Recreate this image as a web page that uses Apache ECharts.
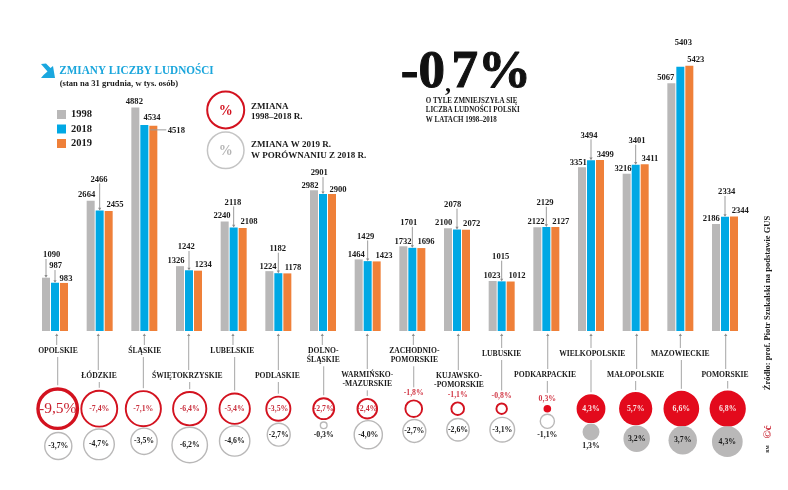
<!DOCTYPE html>
<html>
<head>
<meta charset="utf-8">
<title>Zmiany liczby ludności</title>
<style>
  html, body { margin: 0; padding: 0; background: #fff; }
  #main { width: 788px; height: 490px; }
</style>
<script src="https://cdn.jsdelivr.net/npm/echarts@6/dist/echarts.min.js"></script>
</head>
<body>
<div id="main"></div>
<script>
// dane
var provinces = ['OPOLSKIE', 'ŁÓDZKIE', 'ŚLĄSKIE', 'ŚWIĘTOKRZYSKIE', 'LUBELSKIE', 'PODLASKIE', 'DOLNO-\nŚLĄSKIE',
  'WARMIŃSKO-\n-MAZURSKIE', 'ZACHODNIO-\nPOMORSKIE', 'KUJAWSKO-\n-POMORSKIE', 'LUBUSKIE', 'PODKARPACKIE',
  'WIELKOPOLSKIE', 'MAŁOPOLSKIE', 'MAZOWIECKIE', 'POMORSKIE'];
var values1998 = [1090, 2664, 4882, 1326, 2240, 1224, 2982, 1464, 1732, 2100, 1023, 2122, 3351, 3216, 5067, 2186];
var values2018 = [987, 2466, 4534, 1242, 2118, 1182, 2901, 1429, 1701, 2078, 1015, 2129, 3494, 3401, 5403, 2334];
var values2019 = [983, 2455, 4518, 1234, 2108, 1178, 2900, 1423, 1696, 2072, 1012, 2127, 3499, 3411, 5423, 2344];
var change1998to2018 = [-9.5, -7.4, -7.1, -6.4, -5.4, -3.5, -2.7, -2.4, -1.8, -1.1, -0.8, 0.3, 4.3, 5.7, 6.6, 6.8];
var change2019 = [-3.7, -4.7, -3.5, -6.2, -4.6, -2.7, -0.3, -4.0, -2.7, -2.6, -3.1, -1.1, 1.3, 3.2, 3.7, 4.3];
// w oryginale te slupki sa krotsze niz wynikaloby z ich podpisow: [1998, 2018, 2019]
var drawnShorter = { 2: [4570, 4215, 4195], 6: [2877, 2800, 2800] };

// przesuniecia podpisow wzgledem wierzcholka slupka [dx, dy]
var offset1998 = [[-3.3, -22.7], [-13, -5.7], [-10, -5.8], [-13, -5], [-11.7, -5.5], [-10.3, -4], [-13, -4.6], [-11.4, -4.7],
  [-9.3, -4.3], [-13.3, -5.3], [-9.7, -5], [-10.3, -5.5], [-12.7, -4.8], [-12.7, -5], [-14.6, -5.5], [-13.7, -5.8]];
var offset2018 = [[0.7, -16.7], [-0.7, -31], [7.7, -7.3], [-2.7, -23.3], [-0.7, -25], [-0.6, -24.5], [-3.7, -21], [-2, -24.7],
  [-3.6, -25], [-4.3, -24.7], [-1, -24.7], [-1.3, -24.2], [-2, -24.8], [1.3, -24], [3, -24], [1.7, -24.9]];
var offset2019 = [[11, -4.6], [15.3, -6], [32, 5], [14.3, -6], [15.3, -6], [14.7, -5.4], [15, -4], [16.3, -5.4],
  [13.7, -6], [14.7, -5.7], [15.3, -5.5], [14.4, -5], [14.3, -5.6], [14.3, -5.2], [15.4, -5.8], [15.3, -6]];
var noLeader2018 = [2, 14];

// uklad dolnej czesci
var nameY = [351, 376, 351, 376, 351, 376, 351, 375, 351, 376, 354, 375, 354, 375, 354, 375];
var nameDx = [3, -0.7, 0.4, -1.7, -1.4, -1, 0.3, -0.4, 2, 2, 0, -1.3, 1.3, 0, 0, 0];
var lineDx = [1.7, -1.4, 0, -0.3, -0.7, 0, -0.7, -0.4, 1, 1.3, 0, 1.4, 0, 1, 0, 0.7];
var redDx = [2.7, -0.4, -1, 0.7, 1, 0, 0.7, -0.4, 1.4, 0.7, 0, 1, 0, 0, 1, 2.7];
var greyDx = [3.3, -0.7, -0.3, 0.7, 1, 0.4, 0.7, 0.6, 2, 1, 0.6, 1, 0, 1, 2.4, 2.3];
var greyY = [446, 444.3, 441.3, 445, 441, 434.7, 425.3, 434.7, 431, 429.7, 429.7, 421.3, 432, 438.7, 440.3, 441.7];
var redY = 408.7;

var FONT = '"Liberation Serif", serif';
var GREY = '#b9b8b8', BLUE = '#00a8e4', ORANGE = '#ef8039', RED = '#d3121f', INK = '#1a1a1a';

function barValues(values, yearIndex) {
  return values.map(function (v, i) {
    return drawnShorter[i] ? drawnShorter[i][yearIndex] : v;
  });
}
function pct(v) {
  return v.toFixed(1).replace('.', ',') + '%';
}
function txt(x, y, text, size, color) {
  return {
    type: 'text', silent: true,
    style: {
      x: x, y: y, text: text, fill: color || INK,
      font: 'bold ' + size + 'px ' + FONT,
      textAlign: 'center', textVerticalAlign: 'middle'
    }
  };
}
function seg(x1, y1, x2, y2, color) {
  return { type: 'line', shape: { x1: x1, y1: y1, x2: x2, y2: y2 }, style: { stroke: color || '#9c9c9c', lineWidth: 1 }, silent: true };
}
function tip(x, y, dir, color) {
  // maly grot strzalki, dir 1 - w dol, -1 - w gore
  return { type: 'polygon', shape: { points: [[x - 1.6, y - dir * 2.6], [x + 1.6, y - dir * 2.6], [x, y]] }, style: { fill: color || '#8c8c8c' }, silent: true };
}
// tekst na stronie, scaleX zweza krój, bo oryginalny jest wezszy od dostepnych
function note(x, y, text, font, color, scaleX) {
  return {
    type: 'text', x: x, y: y, scaleX: scaleX || 1,
    style: { x: 0, y: 0, text: text, fill: color || INK, font: font, textVerticalAlign: 'middle' }
  };
}
function sideNote(y, text, font, color) {
  return {
    type: 'text', x: 768, y: y, rotation: Math.PI / 2,
    style: { x: 0, y: 0, text: text, fill: color || INK, font: font, textAlign: 'center', textVerticalAlign: 'middle' }
  };
}

var chart = echarts.init(document.getElementById('main'), null, { renderer: 'canvas' });

var years = [
  { name: '1998', printed: values1998, bars: barValues(values1998, 0), off: offset1998 },
  { name: '2018', printed: values2018, bars: barValues(values2018, 1), off: offset2018 },
  { name: '2019', printed: values2019, bars: barValues(values2019, 2), off: offset2019 }
];

// podpisy wartosci i linie prowadzace
function renderValueLabels(params, api) {
  var i = api.value(0);
  var kids = [];
  years.forEach(function (yr, y) {
    var top = api.coord([i, yr.bars[i]]);
    var lx = top[0] + yr.off[i][0], ly = top[1] + yr.off[i][1];
    kids.push(txt(lx, ly, String(yr.printed[i]), 8.6));
    if (y === 1 && noLeader2018.indexOf(i) < 0) {
      kids.push(seg(top[0], ly + 4, top[0], top[1] - 1));
      kids.push(tip(top[0], top[1], 1));
    }
    if (y === 0 && i === 0) {
      kids.push(seg(top[0] - 9, ly + 4, top[0] - 9, top[1] - 1));
      kids.push(tip(top[0] - 9, top[1], 1));
    }
    if (y === 2 && i === 2) {
      kids.push(seg(top[0] + 6, ly - 1, lx - 10, ly - 1));
    }
  });
  return { type: 'group', children: kids };
}

// nazwy wojewodztw, laczniki, kola zmian procentowych
function renderChange(params, api) {
  var i = api.value(0);
  var c = api.coord([i, 0]);
  var x = c[0], kids = [];
  var red = change1998to2018[i], grey = change2019[i];
  var rr = 6.95 * Math.sqrt(Math.abs(red)), gr = 7.4 * Math.sqrt(Math.abs(grey));
  var lines = provinces[i].split('\n');
  var lastY = nameY[i] + (lines.length - 1) * 9.3;

  kids.push(seg(x + lineDx[i], 335, x + lineDx[i], nameY[i] - 6, '#a5a5a5'));
  kids.push(tip(x + lineDx[i], 333.5, -1, '#8c8c8c'));
  var rx = x + redDx[i];
  var redOutside = Math.abs(red) < 2;
  var lineEnd = redOutside ? redY - rr - 12 : redY - rr - 2;
  if (lineEnd - lastY > 9) kids.push(seg(rx, lastY + 6, rx, lineEnd, '#a5a5a5'));

  lines.forEach(function (s, n) {
    kids.push(txt(x + nameDx[i], nameY[i] + n * 9.3, s, 7.6));
  });

  // czerwone kolo: 1998-2018
  var filled = red > 0;
  var lw = i === 0 ? 3.4 : 1.9;
  kids.push({
    type: 'circle',
    shape: { cx: rx, cy: redY, r: filled ? rr : rr - lw / 2 },
    style: filled ? { fill: '#e30a1c' } : { fill: '#fff', stroke: RED, lineWidth: lw },
    silent: true
  });
  if (redOutside) {
    kids.push(txt(rx, redY - rr - 6.3, pct(red), 7.8, '#d23a48'));
  } else if (i === 0) {
    kids.push({ type: 'text', silent: true, style: { x: rx, y: redY, text: pct(red), fill: '#c9202f', font: '15.5px ' + FONT, textAlign: 'center', textVerticalAlign: 'middle' } });
  } else {
    kids.push(txt(rx, redY, pct(red), 7.8, filled ? '#fbe3e3' : '#c9313f'));
  }

  // szare kolo: 2019 wobec 2018
  var gx = x + greyDx[i], gy = greyY[i];
  var gFilled = grey > 0;
  kids.push({
    type: 'circle',
    shape: { cx: gx, cy: gy, r: gFilled ? gr : gr - 0.7 },
    style: gFilled ? { fill: GREY } : { fill: '#fff', stroke: GREY, lineWidth: 1.4 },
    silent: true
  });
  kids.push(txt(gx, Math.abs(grey) < 2 ? gy + gr + 6 : gy, pct(grey), 7.8));
  return { type: 'group', children: kids };
}

function barSeries(yr, color) {
  return {
    name: yr.name, type: 'bar', data: yr.bars,
    barWidth: 8, barGap: '12.5%', itemStyle: { color: color }, silent: true
  };
}

var indexData = provinces.map(function (p, i) { return [i]; });
var bigFont = 'bold 53px ' + FONT;

var option = {
  animation: false,
  backgroundColor: '#fff',
  grid: { left: 32.67, width: 714.67, top: 37.6, height: 293.4 },
  xAxis: { type: 'category', data: provinces, show: false },
  yAxis: { type: 'value', min: 0, max: 6000, show: false },
  legend: {
    left: 57, top: 109, padding: 0, orient: 'vertical', itemWidth: 9, itemHeight: 9, itemGap: 3.5,
    icon: 'rect', selectedMode: false, data: ['1998', '2018', '2019'],
    textStyle: { fontFamily: FONT, fontWeight: 'bold', fontSize: 10.5, color: INK }
  },
  series: [
    barSeries(years[0], GREY),
    barSeries(years[1], BLUE),
    barSeries(years[2], ORANGE),
    { type: 'custom', name: 'wartosci', data: indexData, encode: { x: 0 }, clip: false, renderItem: renderValueLabels, silent: true, z: 5 },
    { type: 'custom', name: 'zmiany', data: indexData, encode: { x: 0 }, clip: false, renderItem: renderChange, silent: true, z: 5 }
  ],
  graphic: [
    // tytul
    { type: 'polygon', shape: { points: [[41, 64], [46, 63.5], [50.5, 68], [53, 66], [55, 78], [41, 78], [43.5, 75], [47.5, 71.5]] }, style: { fill: '#1aa7df' } },
    note(59.3, 70.7, 'ZMIANY LICZBY LUDNOŚCI', 'bold 13.5px ' + FONT, '#1ba6dc', 0.83),
    note(59.7, 83.3, '(stan na 31 grudnia, w tys. osób)', 'bold 8.6px ' + FONT),
    // objasnienie kol
    { type: 'circle', shape: { cx: 225.7, cy: 110, r: 18.5 }, style: { fill: '#fff', stroke: RED, lineWidth: 2 } },
    { type: 'text', style: { x: 225.7, y: 111, text: '%', fill: RED, font: 'bold 14px ' + FONT, textAlign: 'center', textVerticalAlign: 'middle' } },
    { type: 'circle', shape: { cx: 225.7, cy: 150.3, r: 18.3 }, style: { fill: '#fff', stroke: '#c4c4c4', lineWidth: 1.5 } },
    { type: 'text', style: { x: 225.7, y: 151.3, text: '%', fill: '#b5b5b5', font: 'bold 14px ' + FONT, textAlign: 'center', textVerticalAlign: 'middle' } },
    note(251, 106.7, 'ZMIANA', 'bold 9px ' + FONT),
    note(251, 117, '1998–2018 R.', 'bold 9px ' + FONT),
    note(251, 144.7, 'ZMIANA W 2019 R.', 'bold 9px ' + FONT),
    note(251, 155.3, 'W PORÓWNANIU Z 2018 R.', 'bold 9px ' + FONT),
    // wielka liczba, przecinek mniejszy jak w oryginale
    { type: 'text', style: { x: 445, y: 73, text: '-0', fill: '#111', font: bigFont, textAlign: 'right', textVerticalAlign: 'middle', stroke: '#111', lineWidth: 1 } },
    { type: 'text', style: { x: 445, y: 85, text: ',', fill: '#111', font: 'bold 24px ' + FONT, textVerticalAlign: 'middle' } },
    { type: 'text', style: { x: 451.5, y: 73, text: '7%', fill: '#111', font: bigFont, textVerticalAlign: 'middle', stroke: '#111', lineWidth: 1 } },
    note(425.7, 101, 'O TYLE ZMNIEJSZYŁA SIĘ', 'bold 7.8px ' + FONT, INK, 0.9),
    note(425.7, 110.3, 'LICZBA LUDNOŚCI POLSKI', 'bold 7.8px ' + FONT, INK, 0.9),
    note(425.7, 119.7, 'W LATACH 1998–2018', 'bold 7.8px ' + FONT, INK, 0.9),
    // zrodlo
    sideNote(303, 'Źródło: prof. Piotr Szukalski na podstawie GUS', 'bold 8.5px ' + FONT),
    sideNote(432, '©ć', 'bold 11px ' + FONT, '#c9202f'),
    sideNote(449, 'RM', 'bold 4.5px ' + FONT)
  ]
};
chart.setOption(option);
</script>
</body>
</html>
